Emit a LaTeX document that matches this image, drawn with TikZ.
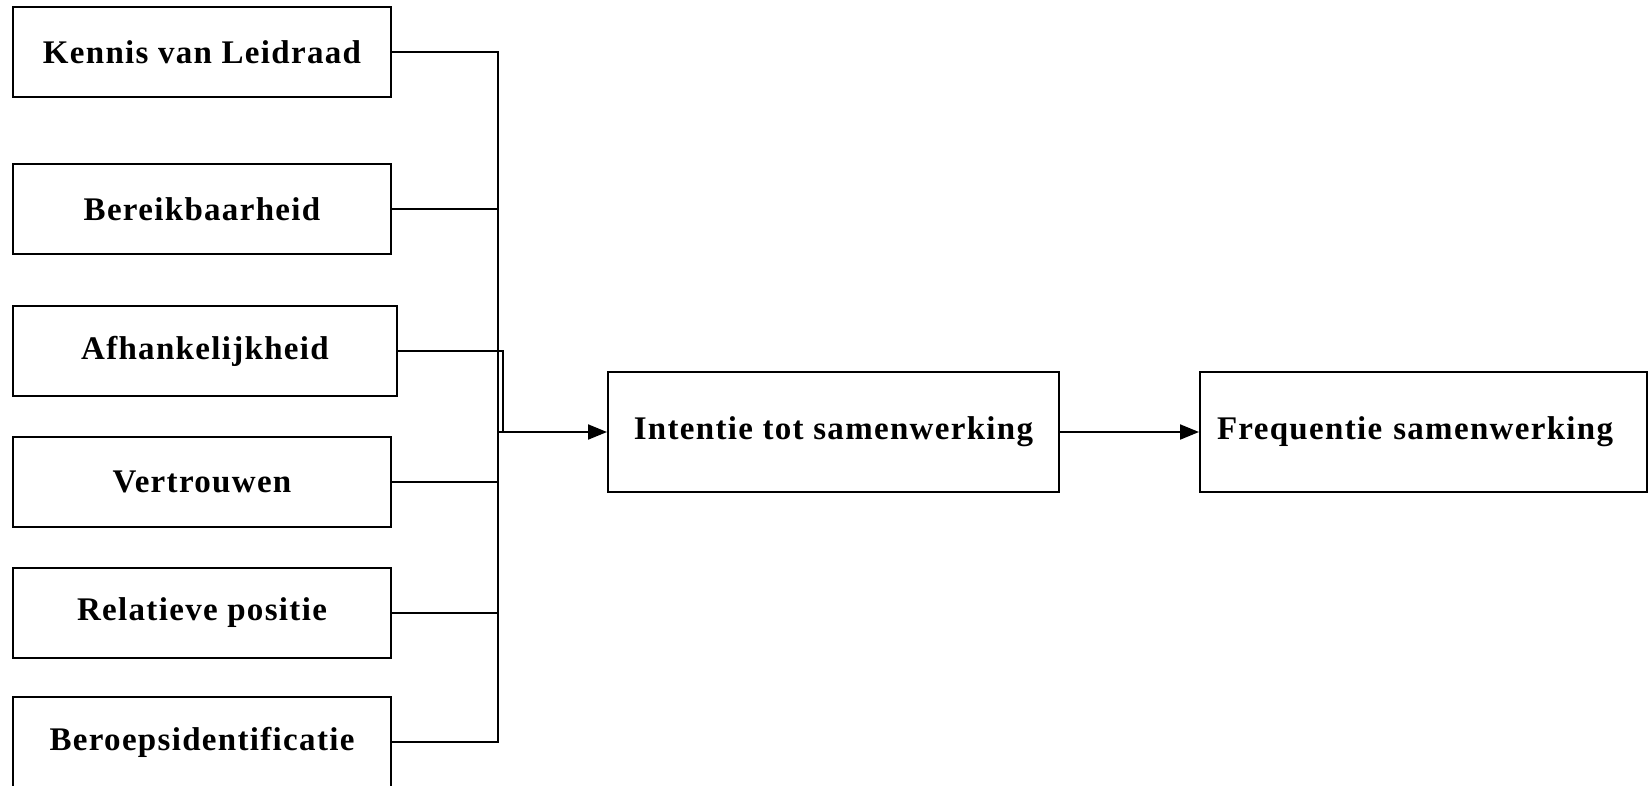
\documentclass[tikz,border=0pt]{standalone}
\usepackage{fontspec}
\setmainfont{Liberation Serif}[LetterSpace=4]
\usetikzlibrary{arrows.meta}
\begin{document}
\begin{tikzpicture}[x=1pt,y=-1pt,
  box/.style={draw=black,line width=2pt,inner sep=0pt,fill=white,
    font=\fontsize{33}{38}\selectfont\bfseries},
  wire/.style={draw=black,line width=2pt},
  arr/.style={wire,-{Triangle[length=19pt,width=15pt]}}]
\path[use as bounding box] (0,0) rectangle (1648,785);
\clip (0,0) rectangle (1648,785);
\fill[white] (0,0) rectangle (1648,785);
\node[box,minimum width=378pt,minimum height=90pt] (k1) at (202,52) {Kennis van Leidraad};
\node[box,minimum width=378pt,minimum height=90pt] (k2) at (202,209) {Bereikbaarheid};
\node[box,minimum width=384pt,minimum height=90pt] (k3) at (205,351) {Afhankelijkheid};
\node[box,minimum width=378pt,minimum height=90pt] (k4) at (202,482) {Vertrouwen};
\node[box,minimum width=378pt,minimum height=90pt] (k5) at (202,613) {Relatieve positie};
\node[box,minimum width=378pt,minimum height=90pt] (k6) at (202,742) {Beroepsidentificatie};
\node[box,minimum width=451pt,minimum height=120pt] (int) at (833.5,432) {Intentie tot samenwerking};
\node[box,minimum width=447pt,minimum height=120pt,text width=413pt,align=left,inner xsep=17pt] (freq) at (1423.5,432) {Frequentie samenwerking};
\coordinate (top) at (498,52);
\coordinate (bot) at (498,742);
\coordinate (j) at (498,432);
\coordinate (k3b) at (503,351);
\draw[wire] (k1.east) -- (top) -- (bot) -- (k6.east);
\draw[wire] (k2.east) -- (k2.east -| top);
\draw[wire] (k4.east) -- (k4.east -| top);
\draw[wire] (k5.east) -- (k5.east -| top);
\draw[wire] (k3.east) -- (k3b) |- (j);
\draw[arr] (j) -- (int.west);
\draw[arr] (int.east) -- (freq.west);
\end{tikzpicture}
\end{document}
